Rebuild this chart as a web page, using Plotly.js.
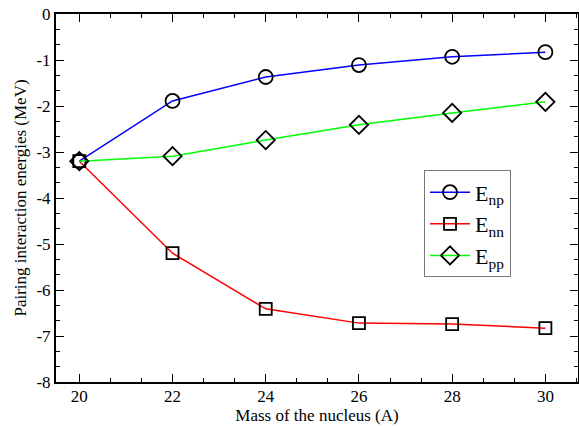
<!DOCTYPE html>
<html><head><meta charset="utf-8">
<script src="https://cdn.plot.ly/plotly-3.0.1.min.js"></script>
<style>html,body{margin:0;padding:0;background:#fff}</style>
</head><body><div id="chart" style="width:579px;height:426px"></div>
<script>
const massA = [20, 22, 24, 26, 28, 30];
const Enp = [-3.2, -1.89, -1.37, -1.11, -0.93, -0.83];
const Enn = [-3.2, -5.2, -6.41, -6.72, -6.74, -6.83];
const Epp = [-3.2, -3.09, -2.74, -2.41, -2.15, -1.91];
const seriesNames = ['E<sub>np</sub>', 'E<sub>nn</sub>', 'E<sub>pp</sub>'];
const yTickVals = [0, -1, -2, -3, -4, -5, -6, -7, -8];
const yTickText = ['0', '-1', '-2', '-3', '-4', '-5', '-6', '-7', '-8'];

function tr(y, name, color, sym, size) {
  return {x: massA, y: y, name: name, type: 'scatter', mode: 'lines+markers',
    line: {color: color, width: 1.5},
    marker: {symbol: sym, size: size, color: '#000', line: {color: '#000', width: 1.8}}};
}
const data = [
  tr(Enp, seriesNames[0], '#0000ff', 'circle-open', 14),
  tr(Enn, seriesNames[1], '#ff0000', 'square-open', 12),
  tr(Epp, seriesNames[2], '#00ff00', 'diamond-open', 14)
];
const font = {family: 'Liberation Serif, Times New Roman, serif', color: '#000'};
const layout = {
  width: 579, height: 426,
  margin: {l: 56, r: 1, t: 14, b: 44},
  paper_bgcolor: '#fff', plot_bgcolor: '#fff',
  showlegend: true,
  font: font,
  xaxis: {range: [19.5, 30.7], dtick: 2, tick0: 20, ticks: 'inside', ticklen: 8, tickwidth: 1,
    minor: {dtick: 2/3, tick0: 20, ticks: 'inside', ticklen: 4, tickcolor: '#000'},
    showline: true, linewidth: 2, linecolor: '#000', mirror: 'allticks', showgrid: false, zeroline: false,
    tickfont: {family: font.family, size: 17}, tickcolor: '#000', ticklabelstandoff: -2,
    title: {text: 'Mass of the nucleus (A)', font: {family: font.family, size: 17}, standoff: 2}},
  yaxis: {range: [-8, 0], tickmode: 'array', tickvals: yTickVals, ticktext: yTickText,
    ticks: 'inside', ticklen: 8, tickwidth: 1,
    minor: {dtick: 1/3, tick0: 0, ticks: 'inside', ticklen: 4, tickcolor: '#000'},
    showline: true, linewidth: 2, linecolor: '#000', mirror: 'allticks', showgrid: false, zeroline: false,
    tickfont: {family: font.family, size: 17}, tickcolor: '#000',
    title: {text: 'Pairing interaction energies (MeV)', font: {family: font.family, size: 17}, standoff: 5}},
  legend: {x: 0.705, y: 0.575, xanchor: 'left', yanchor: 'top', bordercolor: '#777', borderwidth: 1,
    bgcolor: '#fff', font: {family: font.family, size: 22}, itemwidth: 40, tracegroupgap: 0}
};
Plotly.newPlot('chart', data, layout, {displayModeBar: false, staticPlot: true});
</script></body></html>
